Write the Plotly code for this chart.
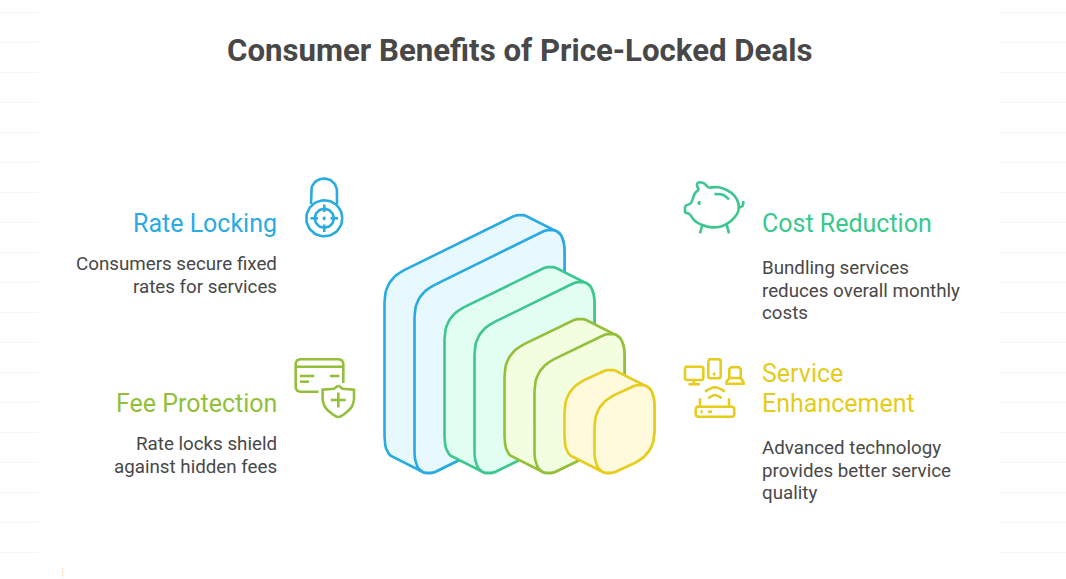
import numpy as np
import plotly.graph_objects as go

# Textos do infográfico
titulo = "Consumer Benefits of Price-Locked Deals"
cabecalhos = ["Rate Locking", "Cost Reduction", "Fee Protection", "Service", "Enhancement"]
cabecalhos_x = [277, 762, 277, 762, 762]
cabecalhos_y = [223.5, 223.5, 403.5, 373.5, 403.5]
cabecalhos_ancora = ["right", "left", "right", "left", "left"]
cabecalhos_cor = ["#29ABE2", "#38C98C", "#92BF39", "#E5CB1B", "#E5CB1B"]
corpo = ["Consumers secure fixed", "rates for services",
         "Bundling services", "reduces overall monthly", "costs",
         "Rate locks shield", "against hidden fees",
         "Advanced technology", "provides better service", "quality"]
corpo_x = [277, 277, 762, 762, 762, 277, 277, 762, 762, 762]
corpo_y = [263.5, 286.5, 267.5, 290.5, 313, 443.5, 466.5, 447.5, 470.5, 493]
corpo_ancora = ["right", "right", "left", "left", "left", "right", "right", "left", "left", "left"]

# Blocos isométricos: azul, verde, lima, amarelo
bloco_esq = [414.5, 474.5, 534.5, 594.5]
bloco_dir = [564.5, 594.5, 624.5, 654.5]
bloco_topo = [295, 332, 369, 405]
bloco_linha = ["#29ABE2", "#3DC78F", "#94BF3B", "#E6CC1C"]
bloco_fundo = ["#E7F8FF", "#E2FDF1", "#F3FDDF", "#FFFADC"]
base_y = 483

# Linhas de fundo bem claras
linhas_y = [12.5 + 30 * i for i in range(19)]

fig = go.Figure()


def traco(x, y, cor, largura=2.6, fundo=None, suave=False):
    fig.add_trace(go.Scatter(
        x=list(x), y=list(y), mode="lines", hoverinfo="skip", showlegend=False,
        line=dict(color=cor, width=largura, shape="spline" if suave else "linear", smoothing=1),
        fill="toself" if fundo else "none", fillcolor=fundo))


def arredondado(pts, cortes, n=14):
    # polígono com cantos arredondados por curvas quadráticas
    xs, ys = [], []
    tam = len(pts)
    for i in range(tam):
        p0, p1, p2 = np.array(pts[i - 1], float), np.array(pts[i], float), np.array(pts[(i + 1) % tam], float)
        a = p1 + (p0 - p1) / np.linalg.norm(p0 - p1) * cortes[i]
        b = p1 + (p2 - p1) / np.linalg.norm(p2 - p1) * cortes[i]
        for t in np.linspace(0, 1, n):
            q = (1 - t) ** 2 * a + 2 * t * (1 - t) * p1 + t ** 2 * b
            xs.append(q[0])
            ys.append(q[1])
    xs.append(xs[0])
    ys.append(ys[0])
    return xs, ys


def casco(xs, ys):
    # fecho convexo das duas faces do bloco
    pts = sorted(set(zip(xs, ys)))

    def meia(seq):
        saida = []
        for p in seq:
            while len(saida) > 1 and ((saida[-1][0] - saida[-2][0]) * (p[1] - saida[-2][1])
                                      - (saida[-1][1] - saida[-2][1]) * (p[0] - saida[-2][0])) <= 0:
                saida.pop()
            saida.append(p)
        return saida[:-1]

    h = meia(pts) + meia(pts[::-1])
    h.append(h[0])
    return [p[0] for p in h], [p[1] for p in h]


def retangulo(x0, y0, x1, y1, r, cor):
    xs, ys = arredondado([(x0, y0), (x1, y0), (x1, y1), (x0, y1)], [r] * 4, n=6)
    traco(xs, ys, cor)


def circulo(cx, cy, r, cor, largura=2.6, fundo=None):
    t = np.linspace(0, 2 * np.pi, 60)
    traco(cx + r * np.cos(t), cy + r * np.sin(t), cor, largura, fundo)


def porco(pontos, cor, suave=True):
    traco([675 + p[0] / 3 for p in pontos], [175 + p[1] / 3 for p in pontos], cor, suave=suave)


# Linhas de fundo
for y in linhas_y:
    traco([0, 39], [y, y], "#F6F6F6", 1)
    traco([1000, 1066], [y, y], "#F6F6F6", 1)
fig.add_trace(go.Scatter(x=[62.5, 62.5], y=[568, 578], mode="lines", hoverinfo="skip", showlegend=False,
                         line=dict(color="#FFD8BF", width=1, dash="2px,1px")))

# Blocos
cortes_face = [22, 32, 22, 32]
for esq, dir_, topo, cor, fundo in zip(bloco_esq, bloco_dir, bloco_topo, bloco_linha, bloco_fundo):
    sobe = (dir_ - esq) / 2
    altura = base_y - topo
    face = [(esq, topo), (dir_, topo - sobe), (dir_, topo - sobe + altura), (esq, base_y)]
    fx, fy = arredondado(face, cortes_face)
    tx, ty = arredondado([(p[0] - 30, p[1] - 15) for p in face], cortes_face)
    cx, cy = casco(fx + tx, fy + ty)
    traco(cx, cy, cor, 2.6, fundo)
    traco(fx, fy, cor, 2.6, fundo)

# Cadeado
azul = bloco_linha[0]
t = np.linspace(np.pi, 2 * np.pi, 30)
traco([311] + list(324 + 13 * np.cos(t)) + [337], [204] + list(191.5 + 13 * np.sin(t)) + [204], azul)
circulo(324.3, 218.3, 18, azul)
circulo(324.3, 218.3, 9.5, azul)
circulo(324.3, 218.3, 0.9, azul, 2, azul)
traco([324.3, 324.3], [204.5, 212], azul)
traco([324.3, 324.3], [224.5, 232], azul)
traco([310.5, 318], [218.3, 218.3], azul)
traco([330.5, 338], [218.3, 218.3], azul)

# Cartão e escudo
lima = bloco_linha[2]
traco([318.5, 299.7, 297, 295.7, 295.7, 297, 299.7, 339.3, 342, 343.3, 343.3],
      [391.7, 391.7, 390.5, 387.7, 363.3, 360.5, 359.3, 359.3, 360.5, 363.3, 383], lima)
traco([295.7, 343.3], [366.7, 366.7], lima)
traco([300, 314.3], [376, 376], lima)
traco([300, 309], [381.7, 381.7], lima)
traco([330, 339.3], [376, 376], lima)
traco([338.3, 334, 322.6, 322.6], [385.5, 388.8, 389.6, 400], lima)
traco([354, 354, 342.6, 338.3], [400, 389.6, 388.8, 385.5], lima)
traco([322.6, 325, 331, 338.3, 345.6, 351.6, 354], [400, 407, 413, 417, 413, 407, 400], lima, suave=True)
traco([338.3, 338.3], [392.5, 407.5], lima)
traco([330.8, 345.8], [400, 400], lima)

# Porquinho
verde = bloco_linha[1]
porco([(30, 92), (30, 112), (45, 118)], verde, suave=False)
porco([(45, 118), (60, 138), (82, 150), (110, 157), (135, 155), (158, 145), (178, 128), (190, 108),
       (190, 85), (178, 62), (155, 45), (130, 37), (100, 38)], verde)
porco([(100, 38), (85, 24), (68, 24), (66, 32), (72, 44)], verde)
porco([(72, 44), (60, 55), (52, 75), (47, 85), (30, 92)], verde)
porco([(192, 98), (203, 92), (205, 78)], verde)
porco([(118, 57), (145, 60), (162, 73)], verde)
porco([(82, 150), (75, 175)], verde, suave=False)
porco([(155, 148), (162, 175)], verde, suave=False)
circulo(699.3, 203, 0.8, verde, 2.5, verde)

# Equipamentos
amarelo = bloco_linha[3]
retangulo(685, 366.7, 703.3, 380, 2, amarelo)
traco([694, 694], [380, 384], amarelo)
traco([688.5, 700], [384.3, 384.3], amarelo)
retangulo(708.3, 359.3, 720.7, 378.3, 2, amarelo)
circulo(714.3, 374, 0.8, amarelo, 2, amarelo)
traco([729.3, 729.3, 731, 739, 740.7, 740.7], [378, 369, 367.3, 367.3, 369, 378], amarelo)
traco([729.3, 740.7, 743.5, 743.5, 726.5, 726.5, 729.3], [378, 378, 382, 383.7, 383.7, 382, 378], amarelo)
retangulo(695.7, 406.7, 734.3, 416.7, 2.5, amarelo)
traco([700, 700], [398.3, 406.7], amarelo)
traco([729, 729], [398.3, 406.7], amarelo)
circulo(701.7, 411.7, 0.6, amarelo, 2, amarelo)
traco([708, 712], [411.7, 411.7], amarelo)
traco([705, 715, 725], [391.7, 387.3, 391.7], amarelo, suave=True)
traco([708.3, 715, 721.7], [398.3, 395, 398.3], amarelo, suave=True)

# Textos
fig.add_annotation(x=519.5, y=50, text=f"<b>{titulo}</b>", showarrow=False, xanchor="center", yanchor="middle",
                   font=dict(family="Roboto", size=31.2, color="#484848"))
for texto, x, y, ancora, cor in zip(cabecalhos, cabecalhos_x, cabecalhos_y, cabecalhos_ancora, cabecalhos_cor):
    fig.add_annotation(x=x, y=y, text=texto, showarrow=False, xanchor=ancora, yanchor="middle",
                       font=dict(family="Roboto", size=25, color=cor), borderpad=0, borderwidth=0)
for texto, x, y, ancora in zip(corpo, corpo_x, corpo_y, corpo_ancora):
    fig.add_annotation(x=x, y=y, text=texto, showarrow=False, xanchor=ancora, yanchor="middle",
                       font=dict(family="Roboto", size=18.75, color="#484848"), borderpad=0, borderwidth=0)

fig.update_layout(
    width=1066, height=579, margin=dict(l=0, r=0, t=0, b=0),
    paper_bgcolor="white", plot_bgcolor="white", showlegend=False,
    xaxis=dict(range=[0, 1066], visible=False, fixedrange=True),
    yaxis=dict(range=[579, 0], visible=False, fixedrange=True),
)

fig.write_html("out.html", config=dict(displayModeBar=False),
               post_script="document.body.style.margin='0';document.body.style.overflow='hidden';")
